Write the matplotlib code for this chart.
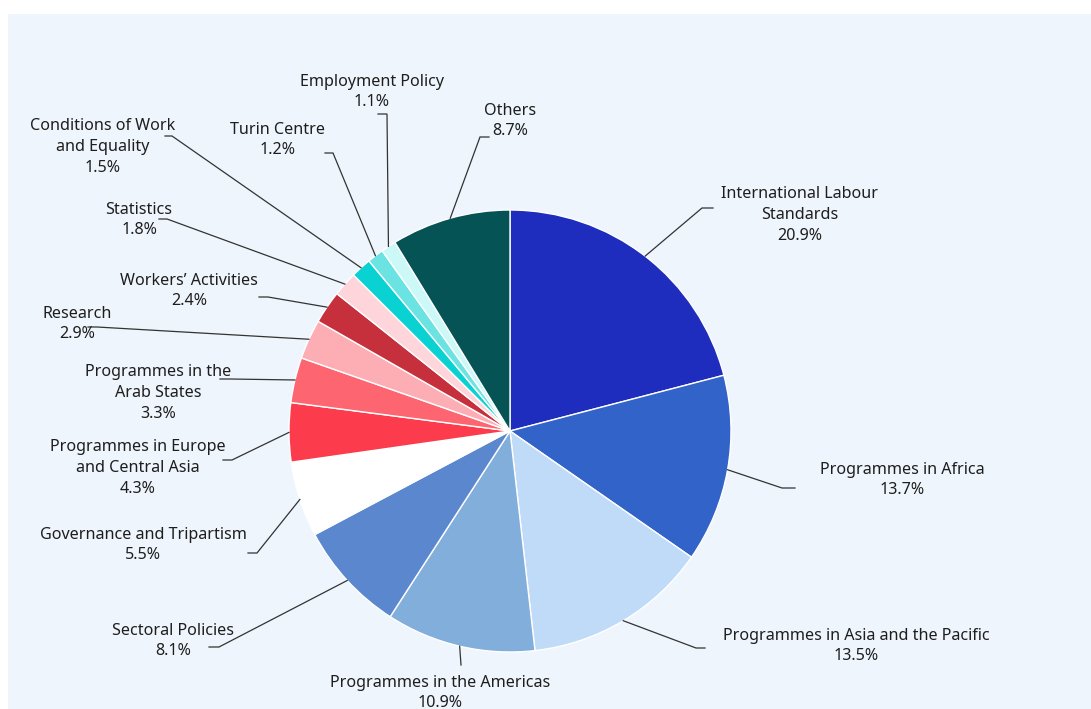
import numpy as np
import matplotlib
matplotlib.use("Agg")
import matplotlib.pyplot as plt
from matplotlib.patches import Rectangle

plt.rcParams['font.family'] = ['Noto Sans', 'DejaVu Sans']

# Budget shares by programme (per cent), clockwise from 12 o'clock
categories = [
    "International Labour\nStandards",
    "Programmes in Africa",
    "Programmes in Asia and the Pacific",
    "Programmes in the Americas",
    "Sectoral Policies",
    "Governance and Tripartism",
    "Programmes in Europe\nand Central Asia",
    "Programmes in the\nArab States",
    "Research",
    "Workers\u2019 Activities",
    "Statistics",
    "Conditions of Work\nand Equality",
    "Turin Centre",
    "Employment Policy",
    "Others",
]
shares = [20.9, 13.7, 13.5, 10.9, 8.1, 5.5, 4.3, 3.3, 2.9, 2.4, 1.8, 1.5, 1.2, 1.1, 8.7]
colors = [
    "#1f2dbe", "#3163c9", "#bfdbf7", "#82aedc", "#5b87ce", "#ffffff",
    "#fc3c4c", "#fd6571", "#fdaeb5", "#c5303c", "#fdd5da",
    "#0ad2d2", "#6be3e3", "#ccf8f8", "#055355",
]

# Label layout in pixels: text centre, elbow of the leader line, leader end
W, H = 1091, 709
CX, CY, R = 510, 431, 221
label_pos = [
    (800, 215), (902, 480), (856, 646), (440, 693), (173, 641),
    (143, 545), (138, 468), (158, 393), (77, 324), (189, 291),
    (139, 220), (103, 147), (278, 140), (372, 92), (510, 121),
]
elbows = [
    ((702, 208), (713, 208)), ((782, 488), (795, 488)), ((696, 648), (705, 648)),
    ((461, 665), (461, 665)), ((219, 647), (209, 647)), ((257, 553), (248, 553)),
    ((232, 460), (223, 460)), ((230, 379), (220, 379)), ((97, 327), (88, 327)),
    ((268, 297), (259, 297)), ((167, 219), (159, 219)), ((172, 136), (165, 136)),
    ((333, 153), (325, 153)), ((387, 114), (378, 114)), ((480, 137), (489, 137)),
]


def to_data(p):
    return ((p[0] - CX) / R, (CY - p[1]) / R)


fig = plt.figure(figsize=(W / 100, H / 100), dpi=100)
fig.patch.set_facecolor("white")

ax = fig.add_axes([0, 0, 1, 1])
ax.add_patch(Rectangle((8 / W, 0), 1 - 8 / W, (H - 14) / H,
                       transform=fig.transFigure, facecolor="#eef5fc",
                       edgecolor="none", zorder=-10))

wedges, _ = ax.pie(shares, colors=colors, startangle=90, counterclock=False,
                   radius=1.0, center=(0, 0), frame=False,
                   wedgeprops=dict(edgecolor="white", linewidth=1.0))
ax.set_xlim(-CX / R, (W - CX) / R)
ax.set_ylim((CY - H) / R, CY / R)
ax.set_aspect("auto")
ax.axis("off")

for w, name, val, tp, (elb, end) in zip(wedges, categories, shares, label_pos, elbows):
    mid = np.deg2rad((w.theta1 + w.theta2) / 2)
    sx, sy = np.cos(mid), np.sin(mid)
    ex, ey = to_data(elb)
    nx, ny = to_data(end)
    ax.plot([sx, ex, nx], [sy, ey, ny], color="#333333", lw=0.9,
            solid_joinstyle="miter", zorder=3)
    tx, ty = to_data(tp)
    ax.text(tx, ty, f"{name}\n{val:.1f}%", ha="center", va="center",
            fontsize=11.6, color="#1e1e1e", linespacing=1.39, zorder=4)

fig.savefig("out.png", dpi=100)
